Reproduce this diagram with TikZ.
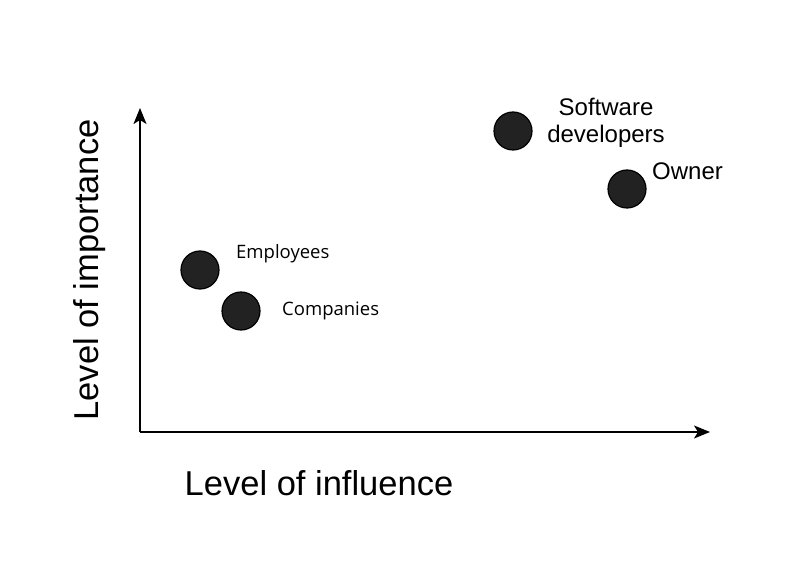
\documentclass[tikz,border=0pt]{standalone}
\usepackage{fontspec}
\setmainfont{Liberation Sans}
\newfontfamily\uifont{Open Sans}
\usetikzlibrary{arrows.meta}
\definecolor{dotgray}{HTML}{222222}
\tikzset{
	party/.style={circle,minimum size=38pt,inner sep=0pt,draw=black,line width=1.2pt,fill=dotgray},
	axis/.style={line width=1.6pt,-{Stealth[length=16pt,width=13pt,inset=4pt]}},
	tag/.style={anchor=west,inner sep=0pt,font=\uifont\fontsize{18.5}{22}\selectfont},
	atag/.style={inner sep=0pt,align=center,font=\fontsize{24}{27}\selectfont}
}

\begin{document}
\begin{tikzpicture}[x=1pt,y=-1pt]
	\useasboundingbox (0,0) rectangle (790,569);
	\coordinate (o) at (140,432);
	\coordinate (ytop) at (140,108);
	\coordinate (xend) at (710,432);

	\draw[axis] (o) -- (ytop);
	\draw[axis] (o) -- (xend);

	\node [party] (emp) at (200,270) {};
	\node [party] (com) at (241,311) {};
	\node [party] (sw) at (513,131) {};
	\node [party] (own) at (627,189) {};

	\node [tag] (emplabel) at (236,254) {Employees};
	\node [tag] (comlabel) at (282,311) {Companies};
	\node [atag] (swlabel) at (606,123) {Software\\developers};
	\node [atag,anchor=west] (ownlabel) at (652,171) {Owner};

	\node [font=\fontsize{34.5}{40}\selectfont] (xlabel) at (319,483) {Level of influence};
	\node [font=\fontsize{34.5}{40}\selectfont,rotate=90] (ylabel) at (90,270) {Level of importance};
\end{tikzpicture}
\end{document}
